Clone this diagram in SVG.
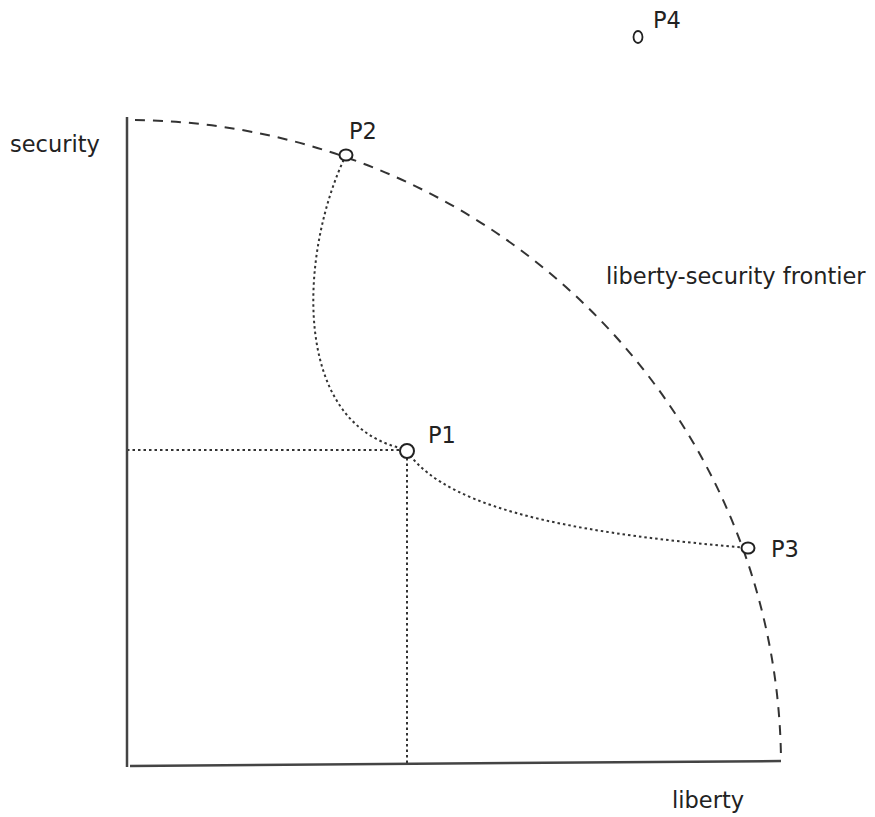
<svg xmlns="http://www.w3.org/2000/svg" width="875" height="817" viewBox="0 0 875 817">
<style>
text{font-family:"DejaVu Sans","Liberation Sans",sans-serif;font-size:22.5px;fill:#222}
.axis{stroke:#444;stroke-width:2.5;fill:none}
.frontier{stroke:#333;stroke-width:2;fill:none;stroke-dasharray:10,8}
.dot{stroke:#333;stroke-width:2;fill:none;stroke-dasharray:2.5,3}
.pt{stroke:#222;stroke-width:2;fill:#fff}
</style>
<rect width="875" height="817" fill="#fff"/>
<g id="connectors">
<path class="frontier" d="M135,120 A654,646 0 0 1 781,760"/>
<path class="dot" d="M346,155 C300,250 290,420 400,448"/>
<path class="dot" d="M407,451 C450,515 600,535 748,548"/>
<path class="dot" d="M127,450 L400,450"/>
<path class="dot" d="M407,458 L407,765"/>
</g>
<g id="axes">
<line class="axis" x1="127" y1="117" x2="127" y2="767"/>
<line class="axis" x1="130" y1="766" x2="781" y2="761"/>
<text x="10" y="152">security</text>
<text x="672" y="808">liberty</text>
</g>
<g id="frontier-label"><text x="606" y="284">liberty-security frontier</text></g>
<g id="P1"><circle class="pt" cx="407" cy="451" r="7"/><text x="428" y="443">P1</text></g>
<g id="P2"><ellipse class="pt" cx="346" cy="155" rx="6.5" ry="5.5"/><text x="349" y="139">P2</text></g>
<g id="P3"><ellipse class="pt" cx="748" cy="548" rx="6.5" ry="5.5"/><text x="771" y="557">P3</text></g>
<g id="P4"><ellipse cx="638" cy="37" rx="4.5" ry="6" fill="none" stroke="#222" stroke-width="1.8"/><text x="653" y="28">P4</text></g>
</svg>
